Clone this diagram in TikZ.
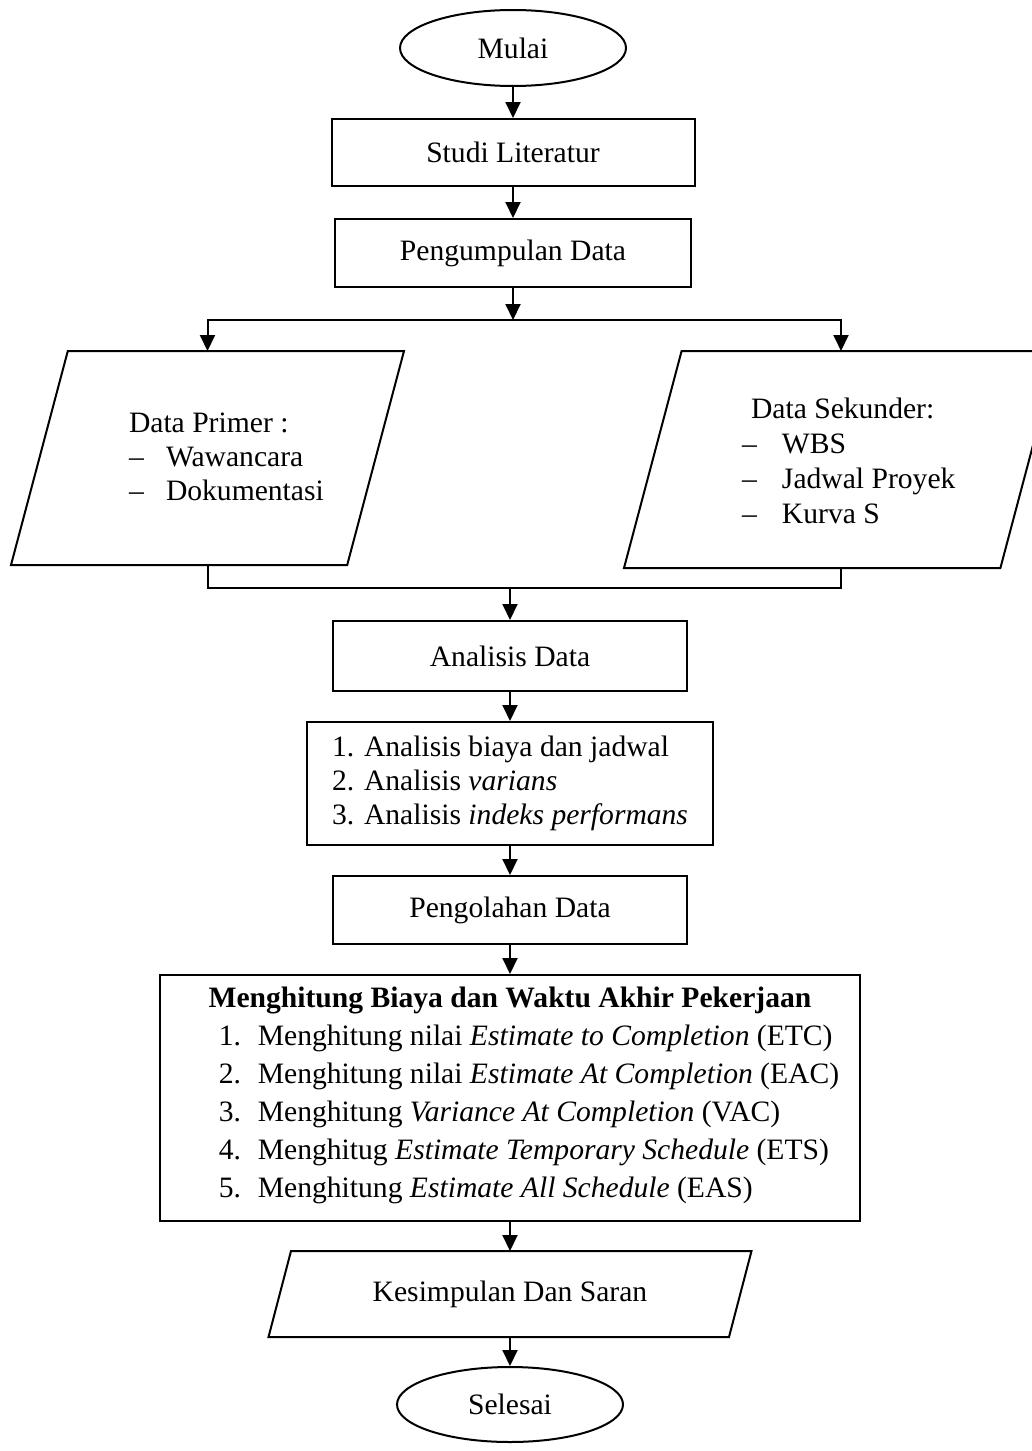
\documentclass[tikz,border=0pt]{standalone}
\usepackage{fontspec}
\setmainfont{Liberation Serif}
\usetikzlibrary{chains,arrows.meta,shapes.geometric,positioning}

\begin{document}
\begin{tikzpicture}[x=0.5pt,y=-0.5pt]
  \tikzset{
    every node/.style={
      font=\fontsize{14.8}{17}\selectfont,
      line width=1pt,
      inner sep=0pt
    },
    terminal/.style={
      draw,
      ellipse,
      minimum width=113pt,
      minimum height=38pt
    },
    proses/.style={
      draw,
      rectangle,
      align=center
    },
    dataio/.style={
      rectangle,
      align=center
    },
    garis/.style={
      line width=1pt,
      line join=miter
    },
    line/.style={
      draw,
      line width=1pt,
      -{Triangle[length=8pt,width=7.5pt]}
    }
  }

  \useasboundingbox (0,0) rectangle (1032,1451);

  \begin{scope}[start chain=atas going below, node distance=15.5pt]
  \node[terminal, on chain, at={(513,48)}] (mulai) {Mulai};
  \node[proses, on chain, minimum width=181.5pt, minimum height=33.5pt] (studi) {Studi Literatur};
  \node[proses, on chain, minimum width=178pt, minimum height=34pt] (kumpul) {Pengumpulan Data};
  \end{scope}

  \coordinate (cabang) at (513,320);
  \coordinate (gabung) at (510,588);

  % data primer & sekunder
  \node[dataio, minimum width=195.5pt, minimum height=106pt] (primer) at (207.5,458) {};
  \draw[garis] ([xshift=28.4pt]primer.north west) -- (primer.north east)
    -- ([xshift=-28.4pt]primer.south east) -- (primer.south west) -- cycle;
  \node[anchor=west] (primertxt) at (128,460) {%
    \begin{tabular}{@{}l@{}l@{}}
      \multicolumn{2}{@{}l@{}}{Data Primer :}\\
      \makebox[18.5pt][l]{–} & Wawancara\\
      \makebox[18.5pt][l]{–} & Dokumentasi
    \end{tabular}};

  \node[dataio, minimum width=216pt, minimum height=107.5pt] (sekunder) at (841,459.5) {};
  \draw[garis] ([xshift=28.8pt]sekunder.north west) -- (sekunder.north east)
    -- ([xshift=-28.8pt]sekunder.south east) -- (sekunder.south west) -- cycle;
  \node[anchor=west, font=\fontsize{14.8}{17.5}\selectfont] (sekundertxt) at (741,463.5) {%
    \begin{tabular}{@{}l@{}l@{}}
      \multicolumn{2}{@{}l@{}}{\hspace*{4.5pt}Data Sekunder:}\\
      \makebox[20pt][l]{–} & WBS\\
      \makebox[20pt][l]{–} & Jadwal Proyek\\
      \makebox[20pt][l]{–} & Kurva S
    \end{tabular}};

  \begin{scope}[start chain=bawah going below, node distance=14.5pt]
  \node[proses, on chain, at={(510,656)}, minimum width=177pt, minimum height=35pt] (analisis) {Analisis Data};
  \node[proses, on chain, align=left, minimum width=203pt, minimum height=61.5pt] (metode)
    {1. Analisis biaya dan jadwal\\2. Analisis \textit{varians}\\3. Analisis \textit{indeks performans}};
  \node[proses, on chain, minimum width=177pt, minimum height=34pt] (olah) {Pengolahan Data};
  \node[proses, on chain, minimum width=350pt, minimum height=123pt,
        font=\fontsize{14.8}{19}\selectfont] (hitung)
    {\textbf{Menghitung Biaya dan Waktu Akhir Pekerjaan}\\
     \hspace*{19pt}\begin{tabular}[t]{@{}l@{}l@{}}
       \makebox[19.5pt][l]{1.} & Menghitung nilai \textit{Estimate to Completion} (ETC)\\
       \makebox[19.5pt][l]{2.} & Menghitung nilai \textit{Estimate At Completion} (EAC)\\
       \makebox[19.5pt][l]{3.} & Menghitung \textit{Variance At Completion} (VAC)\\
       \makebox[19.5pt][l]{4.} & Menghitug \textit{Estimate Temporary Schedule} (ETS)\\
       \makebox[19.5pt][l]{5.} & Menghitung \textit{Estimate All Schedule} (EAS)
     \end{tabular}};
  \node[dataio, on chain, minimum width=240.5pt, minimum height=42pt] (simpul) {Kesimpulan Dan Saran};
  \node[terminal, on chain, minimum height=37.5pt] (selesai) {Selesai};
  \end{scope}
  \draw[garis] ([xshift=11.25pt]simpul.north west) -- (simpul.north east)
    -- ([xshift=-11.25pt]simpul.south east) -- (simpul.south west) -- cycle;

  \draw[line] (mulai) -- (studi);
  \draw[line] (studi) -- (kumpul);
  \draw[line] (kumpul) -- (cabang);
  \draw[line] (cabang) -| (primer.north);
  \draw[line] (cabang) -| (sekunder.north);
  \draw[garis] (primer.south) |- (gabung) -| (sekunder.south);
  \draw[line] (gabung) -- (analisis);
  \draw[line] (analisis) -- (metode);
  \draw[line] (metode) -- (olah);
  \draw[line] (olah) -- (hitung);
  \draw[line] (hitung) -- (simpul);
  \draw[line] (simpul) -- (selesai);

\end{tikzpicture}
\end{document}
